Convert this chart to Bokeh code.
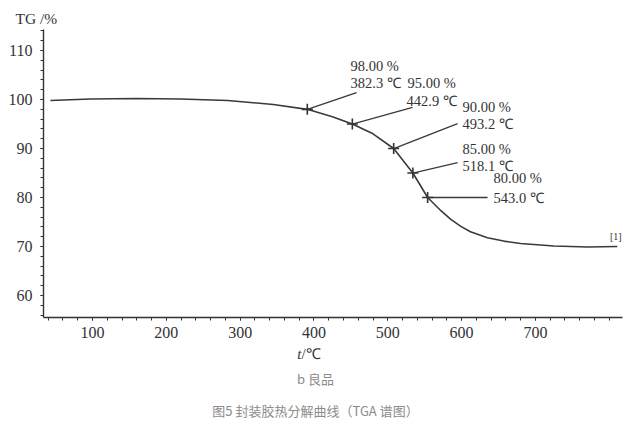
from bokeh.plotting import figure
from bokeh.models import Label, FixedTicker, Range1d, ColumnDataSource, Title
from bokeh.layouts import column
from bokeh.core.properties import value
from bokeh.embed import file_html
from bokeh.resources import INLINE

# ---- data ----
curve_t = [43, 97, 160, 219, 283, 345, 391, 425, 452, 480, 508, 534, 554, 572, 585, 599, 612, 635, 657, 680, 725, 771, 811]
curve_tg = [99.8, 100.1, 100.2, 100.1, 99.8, 99.0, 98.0, 96.5, 95.0, 93.0, 90.0, 85.0, 80.0, 77.3, 75.6, 74.1, 73.0, 71.8, 71.1, 70.6, 70.1, 69.9, 70.0]

marker_t = [391, 452, 508, 534, 554]
marker_tg = [98.0, 95.0, 90.0, 85.0, 80.0]
label_mass = ["98.00 %", "95.00 %", "90.00 %", "85.00 %", "80.00 %"]
label_temp = ["382.3 ℃", "442.9 ℃", "493.2 ℃", "518.1 ℃", "543.0 ℃"]

x_ticks = [100, 200, 300, 400, 500, 600, 700]
y_ticks = [60, 70, 80, 90, 100, 110]

y_title = "TG /%"
x_title_var = "t"
x_title_unit = "/℃"
caption_sub = "b 良品"
caption_main = "图5 封装胶热分解曲线（TGA 谱图）"

# ---- layout (annotation placement) ----
leader_end_x = [457.7, 533.6, 594.6, 594.6, 635.2]
leader_end_y = [101.4, 98.4, 95.1, 87.1, 80.0]
mass_pos = [(449.6, 106.9), (526.8, 103.3), (601.4, 98.4), (601.4, 90.0), (643.4, 83.9)]
temp_pos = [(449.6, 103.3), (525.5, 99.8), (601.4, 95.1), (601.4, 86.5), (643.4, 80.0)]

SERIF = "Liberation Serif"
INK = "#333333"
W = 630
H_TOP = 345
H_BOT = 433 - H_TOP
FL, FR = 43, 622  # frame left / right in page pixels

p = figure(width=W, height=H_TOP, output_backend="svg", toolbar_location=None,
           x_range=Range1d(33.6, 818), y_range=Range1d(55.5, 114.3),
           min_border_left=FL, min_border_right=W - FR, min_border_top=29, min_border_bottom=H_TOP - 317)
p.outline_line_color = None
p.xgrid.visible = False
p.ygrid.visible = False
p.background_fill_color = "white"
p.border_fill_color = "white"

p.add_layout(Title(text=y_title, text_font=SERIF, text_font_size="15.5px", text_font_style="normal",
                   text_color=INK, align="left", offset=-28, standoff=6), "above")

for ax in (p.xaxis[0], p.yaxis[0]):
    ax.axis_line_color = INK
    ax.axis_line_width = 1.4
    ax.major_tick_line_color = INK
    ax.minor_tick_line_color = INK
    ax.major_tick_in = 0
    ax.major_tick_out = 3
    ax.minor_tick_in = 0
    ax.minor_tick_out = 3
    ax.major_label_text_font = SERIF
    ax.major_label_text_font_size = "16px"
    ax.major_label_text_color = INK

p.xaxis[0].ticker = FixedTicker(ticks=x_ticks, minor_ticks=list(range(40, 820, 20)))
p.yaxis[0].ticker = FixedTicker(ticks=y_ticks, minor_ticks=list(range(56, 116, 2)))
p.xaxis[0].major_label_standoff = 6
p.yaxis[0].major_label_standoff = 8

src = ColumnDataSource(dict(t=curve_t, tg=curve_tg))
p.line("t", "tg", source=src, line_color="#3a3a3a", line_width=1.6)

for mt, mg, ex, ey in zip(marker_t, marker_tg, leader_end_x, leader_end_y):
    p.segment(x0=[mt], y0=[mg], x1=[ex], y1=[ey], line_color="#3a3a3a", line_width=1.3)
p.scatter(marker_t, marker_tg, marker="cross", size=11, line_color="#333333", line_width=1.6)

for txt, (x, y) in zip(label_mass, mass_pos):
    p.add_layout(Label(x=x, y=y, text=txt, text_font=SERIF, text_font_size="14.5px",
                       text_color=INK, text_align="left", text_baseline="middle"))
for txt, (x, y) in zip(label_temp, temp_pos):
    p.add_layout(Label(x=x, y=y, text=txt, text_font=SERIF, text_font_size="14.5px",
                       text_color=INK, text_align="left", text_baseline="middle"))

p.add_layout(Label(x=801, y=72.0, text="[1]", text_font=SERIF, text_font_size="10px",
                   text_color=INK, text_align="left", text_baseline="middle"))

# ---- caption panel below the chart (page-pixel coordinates) ----
q = figure(width=W, height=H_BOT, output_backend="svg", toolbar_location=None,
           x_range=Range1d(FL, FR), y_range=Range1d(H_BOT, 0),
           x_axis_location=None, y_axis_location=None,
           min_border_left=FL, min_border_right=W - FR, min_border_top=0, min_border_bottom=0)
q.outline_line_color = None
q.xgrid.visible = False
q.ygrid.visible = False
q.background_fill_color = "white"
q.border_fill_color = "white"

yx = 353 - H_TOP
q.text(x=[301], y=[yx], text=[x_title_var], text_font=value(SERIF), text_font_size="15px",
       text_font_style="italic", text_color=INK, text_align="right", text_baseline="middle")
q.text(x=[301], y=[yx], text=[x_title_unit], text_font=value(SERIF), text_font_size="15px",
       text_color=INK, text_align="left", text_baseline="middle")
q.text(x=[315], y=[378 - H_TOP], text=[caption_sub], text_font=value("Noto Sans CJK SC"),
       text_font_size="13px", text_color="#8c8c8c", text_align="center", text_baseline="middle")
q.text(x=[315], y=[410 - H_TOP], text=[caption_main], text_font=value("Noto Sans CJK SC"),
       text_font_size="13px", text_color="#8c8c8c", text_align="center", text_baseline="middle")

layout = column(p, q, spacing=0)
open("out.html", "w").write(file_html(layout, INLINE))
